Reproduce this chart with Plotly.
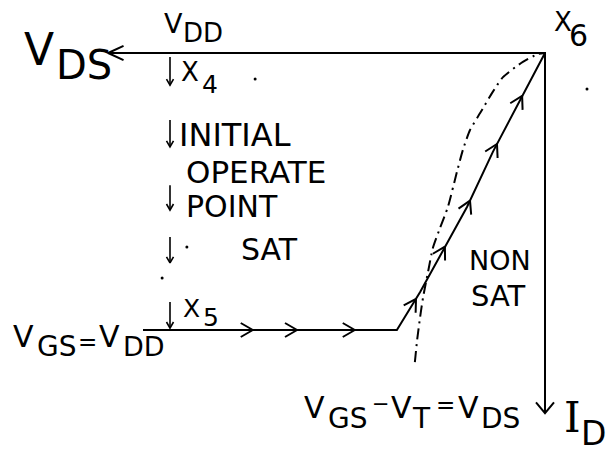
import math
import plotly.graph_objects as go

# V_DS is expressed in units of V_DD, I_D normalised to the current at X5.
# Operating-point trajectory: along V_GS = V_DD, then up through the non-saturated region to X6.
traj_vds = [1.072, 0.395, 0.333, 0.272, 0.208, 0.139, 0.067, 0.0]
traj_id = [1.000, 1.000, 0.863, 0.711, 0.556, 0.357, 0.170, 0.0]

# Saturation boundary V_GS - V_T = V_DS
bound_vds = [0.347, 0.341, 0.333, 0.325, 0.312, 0.299, 0.280, 0.259, 0.235,
             0.219, 0.200, 0.173, 0.141, 0.112, 0.059, 0.019, 0.0]
bound_id = [1.116, 1.036, 0.953, 0.881, 0.791, 0.704, 0.632, 0.556, 0.430,
            0.350, 0.278, 0.217, 0.144, 0.087, 0.032, 0.004, 0.0]

# Direction arrows along the trajectory, placed by their V_DS value
traj_arrow_vds = [0.779, 0.661, 0.507, 0.344, 0.267, 0.200, 0.128, 0.061]

# Initial drop of the operating point from X4 to X5 at V_DS = V_DD
v_dd = 1.0
drop_start = [0.014, 0.242, 0.477, 0.664, 0.899]
drop_end = [0.116, 0.339, 0.567, 0.758, 0.993]

# Axis extents
vds_axis_end = 1.165
id_axis_end = 1.300

# Stray marks on the sheet
speck_vds = [0.773, -0.112, 0.955, 1.021]
speck_id = [0.094, 0.130, 0.700, 0.812]

# ---- geometry of the canvas ----
W, H = 607, 453
X0, Y0 = 545, 53       # pixel position of the origin (V_DS = 0, I_D = 0)
SX, SY = 375, 277      # pixels per unit of V_DS and I_D


def to_px(v, i):
    return X0 - v * SX, Y0 + i * SY


def from_px(x, y):
    return (X0 - x) / SX, (y - Y0) / SY


def chevron(v, i, dx, dy, length, half_angle):
    """Open arrowhead with its tip at (v, i), pointing along pixel direction (dx, dy)."""
    tx, ty = to_px(v, i)
    n = math.hypot(dx, dy)
    ux, uy = dx / n, dy / n
    xs, ys = [], []
    for s in (1, -1):
        a = s * math.radians(half_angle)
        rx = ux * math.cos(a) - uy * math.sin(a)
        ry = ux * math.sin(a) + uy * math.cos(a)
        p = from_px(tx - length * rx, ty - length * ry)
        xs += [p[0]]
        ys += [p[1]]
    return [xs[0], v, xs[1], None], [ys[0], i, ys[1], None]


def on_trajectory(v):
    for k in range(len(traj_vds) - 1):
        a, b = traj_vds[k], traj_vds[k + 1]
        if b <= v <= a:
            t = (a - v) / (a - b)
            i = traj_id[k] + t * (traj_id[k + 1] - traj_id[k])
            x1, y1 = to_px(a, traj_id[k])
            x2, y2 = to_px(b, traj_id[k + 1])
            return i, x2 - x1, y2 - y1
    return traj_id[-1], 1, 0


fig = go.Figure()

# axes drawn as arrows: V_DS to the left, I_D downward
fig.add_trace(go.Scatter(x=[vds_axis_end, 0, 0], y=[0, 0, id_axis_end], mode="lines",
                         line=dict(color="black", width=2), hoverinfo="skip"))
hx, hy = chevron(vds_axis_end, 0, -1, 0, 17, 25)
vx, vy = chevron(0, id_axis_end, 0, 1, 14, 40)
fig.add_trace(go.Scatter(x=hx + vx, y=hy + vy, mode="lines",
                         line=dict(color="black", width=2), hoverinfo="skip"))

# saturation boundary
fig.add_trace(go.Scatter(x=bound_vds, y=bound_id, mode="lines",
                         line=dict(color="black", width=2, dash="11px,5px,2px,5px",
                                   shape="spline", smoothing=0.6),
                         hoverinfo="skip"))

# trajectory
fig.add_trace(go.Scatter(x=traj_vds, y=traj_id, mode="lines",
                         line=dict(color="black", width=2), hoverinfo="skip"))

ax_all, ay_all = [], []
for v in traj_arrow_vds:
    i, dx, dy = on_trajectory(v)
    cx, cy = chevron(v, i, dx, dy, 14, 30)
    ax_all += cx
    ay_all += cy
fig.add_trace(go.Scatter(x=ax_all, y=ay_all, mode="lines",
                         line=dict(color="black", width=2), hoverinfo="skip"))

# initial drop arrows from X4 to X5
dx_all, dy_all = [], []
for s, e in zip(drop_start, drop_end):
    dx_all += [v_dd, v_dd, None]
    dy_all += [s, e, None]
    cx, cy = chevron(v_dd, e, 0, 1, 7, 30)
    dx_all += cx
    dy_all += cy
fig.add_trace(go.Scatter(x=dx_all, y=dy_all, mode="lines",
                         line=dict(color="black", width=1.6), hoverinfo="skip"))

fig.add_trace(go.Scatter(x=speck_vds, y=speck_id, mode="markers",
                         marker=dict(color="black", size=3), hoverinfo="skip"))

# ---- lettering ----
FONT = "DejaVu Sans"
labels = [
    # text, left px, centre px, size
    ("V", 22, 49, 44), ("DS", 54, 65, 40),
    ("V", 162, 23, 27), ("DD", 181, 33, 26),
    ("X", 179, 72, 26), ("4", 200, 85, 25),
    ("X", 552, 22, 26), ("6", 567, 36, 30),
    ("INITIAL", 177, 135, 32),
    ("OPERATE", 184, 172, 31),
    ("POINT", 184, 206, 30),
    ("SAT", 239, 249, 30),
    ("X", 181, 308, 25), ("5", 201, 317, 25),
    ("NON", 467, 260, 27),
    ("SAT", 469, 296, 29),
    ("V", 11, 336, 30), ("GS", 35, 346, 28), ("=", 76, 342, 23),
    ("V", 97, 336, 30), ("DD", 121, 346, 27),
    ("V", 302, 407, 30), ("GS", 326, 418, 28), ("\u2212", 370, 404, 21),
    ("V", 389, 407, 30), ("T", 410, 418, 28), ("=", 434, 405, 23),
    ("V", 456, 407, 30), ("DS", 479, 418, 28),
    ("D", 579, 433, 33),
]
annotations = []
for text, left, cy, size in labels:
    annotations.append(dict(text=text, x=left / W, y=1 - cy / H, xref="paper", yref="paper",
                            xanchor="left", yanchor="middle", showarrow=False,
                            font=dict(family=FONT, size=size, color="black")))
annotations.append(dict(text="I", x=562 / W, y=1 - 417 / H, xref="paper", yref="paper",
                        xanchor="left", yanchor="middle", showarrow=False,
                        font=dict(family="DejaVu Serif", size=42, color="black")))

fig.update_layout(
    width=W, height=H, margin=dict(l=0, r=0, t=0, b=0),
    paper_bgcolor="white", plot_bgcolor="white", showlegend=False,
    xaxis=dict(range=[X0 / SX, (X0 - W) / SX], visible=False, fixedrange=True),
    yaxis=dict(range=[(H - Y0) / SY, -Y0 / SY], visible=False, fixedrange=True),
    annotations=annotations,
)

fig.write_html("out.html")
